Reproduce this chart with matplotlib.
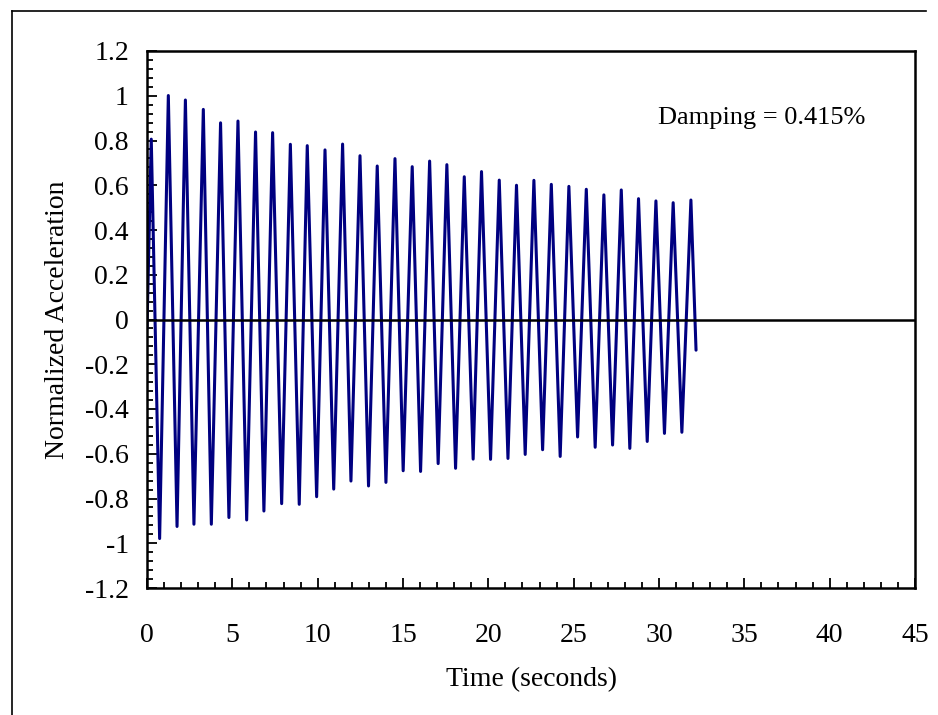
import matplotlib

matplotlib.use("Agg")
import matplotlib.pyplot as plt
from matplotlib.lines import Line2D
from matplotlib.ticker import MultipleLocator

# Extremes (peaks / troughs) of the free-vibration record.
time_s = [
    0.00, 0.25, 0.74, 1.25, 1.76, 2.25, 2.75, 3.30, 3.77, 4.31, 4.80,
    5.33, 5.84, 6.36, 6.85, 7.36, 7.89, 8.40, 8.92, 9.39, 9.94,
    10.43, 10.94, 11.46, 11.95, 12.48, 12.98, 13.49, 14.00, 14.53, 15.01,
    15.54, 16.03, 16.56, 17.06, 17.57, 18.08, 18.59, 19.11, 19.60, 20.13,
    20.64, 21.15, 21.65, 22.16, 22.67, 23.18, 23.69, 24.21, 24.72, 25.23,
    25.74, 26.26, 26.77, 27.28, 27.79, 28.29, 28.80, 29.31, 29.82, 30.32,
    30.83, 31.34, 31.87, 32.17,
]
accel = [
    -0.04, 0.806, -0.979, 1.001, -0.925, 0.981, -0.915, 0.939, -0.915, 0.879, -0.885,
    0.887, -0.896, 0.838, -0.856, 0.835, -0.823, 0.783, -0.826, 0.777, -0.792,
    0.758, -0.758, 0.784, -0.722, 0.732, -0.744, 0.686, -0.728, 0.719, -0.676,
    0.683, -0.679, 0.708, -0.644, 0.692, -0.665, 0.638, -0.624, 0.661, -0.625,
    0.623, -0.621, 0.600, -0.603, 0.622, -0.582, 0.604, -0.612, 0.595, -0.525,
    0.582, -0.571, 0.557, -0.561, 0.579, -0.576, 0.540, -0.545, 0.530, -0.509,
    0.522, -0.504, 0.534, -0.137,
]
damping_label = "Damping = 0.415%"

W, H = 938, 715
plt.rcParams["font.family"] = ["Liberation Serif", "DejaVu Serif"]

fig = plt.figure(figsize=(W / 100, H / 100), dpi=100)
ax = fig.add_axes([147 / W, 1 - 588 / H, (915 - 147) / W, (588 - 51) / H])

ax.plot(time_s, accel, color="#000080", lw=2.2,
        solid_joinstyle="round", solid_capstyle="round")
ax.axhline(0, color="black", lw=1.8, zorder=3)

ax.set_xlim(0, 45)
ax.set_ylim(-1.2, 1.2)
ax.xaxis.set_major_locator(MultipleLocator(5))
ax.xaxis.set_minor_locator(MultipleLocator(1))
ax.yaxis.set_major_locator(MultipleLocator(0.2))
ax.yaxis.set_minor_locator(MultipleLocator(0.04))
ax.yaxis.set_major_formatter(lambda v, pos: f"{v:.1f}".rstrip("0").rstrip(".").replace("-0", "-0") if abs(v) > 1e-9 else "0")

ax.tick_params(which="both", direction="in", width=1.3, labelsize=20)
ax.tick_params(which="major", length=7)
ax.tick_params(which="minor", length=4.5)
ax.tick_params(axis="x", which="major", pad=25)
ax.tick_params(axis="y", which="major", pad=13)
for sp in ax.spines.values():
    sp.set_linewidth(1.8)

ax.set_xlabel("Time (seconds)", fontsize=20, labelpad=14)
ax.set_ylabel("Normalized Acceleration", fontsize=20, labelpad=11)
ax.text(29.95, 0.90, damping_label, fontsize=19, ha="left", va="center")

# outer chart-area border (top and left edges visible)
fig.add_artist(Line2D([12 / W, 926 / W], [1 - 11 / H, 1 - 11 / H], color="black", lw=1.2))
fig.add_artist(Line2D([12 / W, 12 / W], [0, 1 - 11 / H], color="black", lw=1.2))

fig.savefig("out.png", dpi=100)
